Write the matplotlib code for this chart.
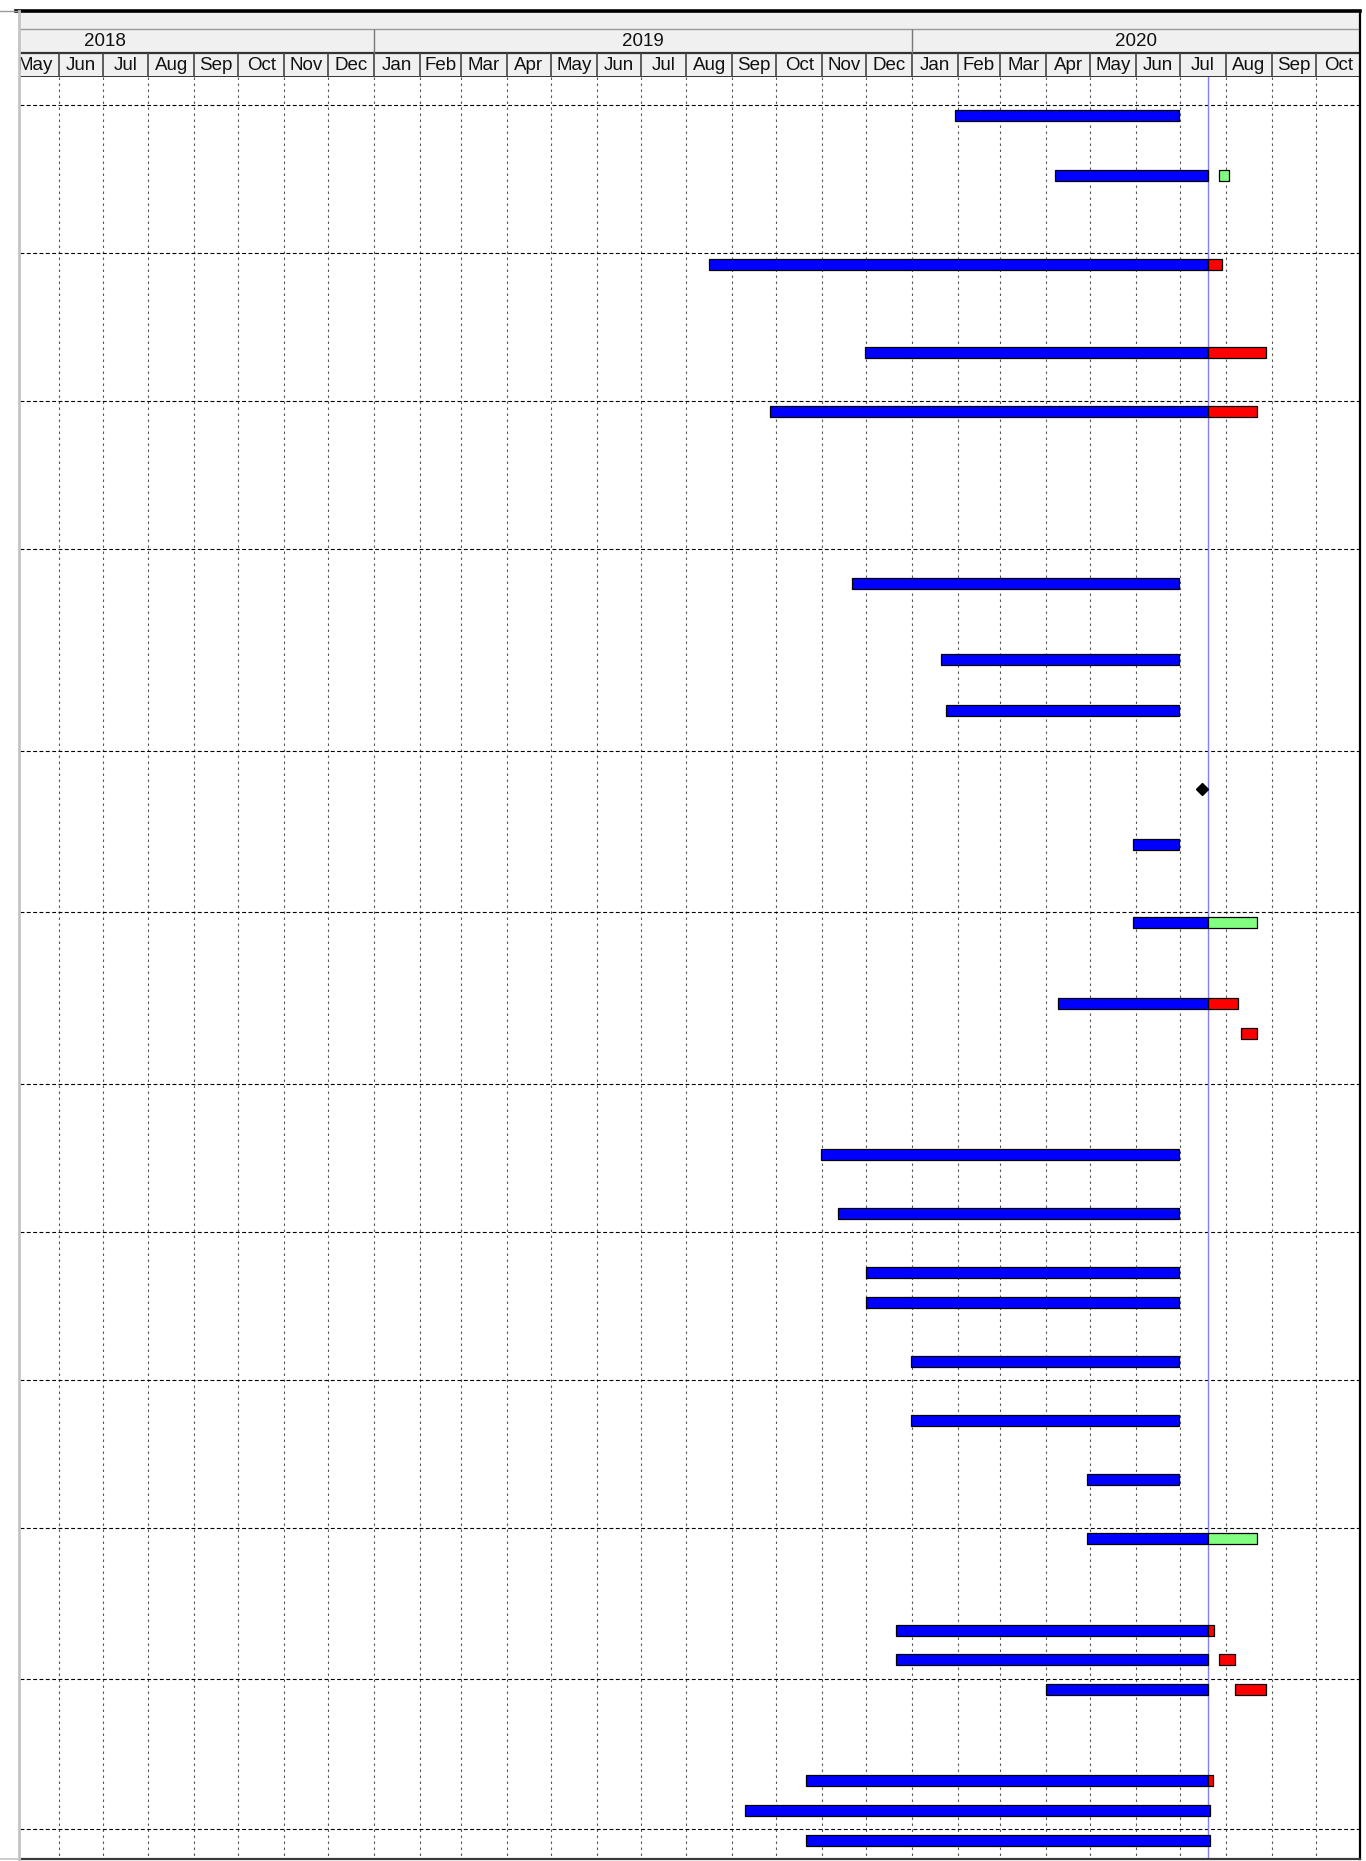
import datetime as dt

import matplotlib
matplotlib.use("Agg")
import matplotlib.pyplot as plt
import matplotlib.dates as mdates
from matplotlib.lines import Line2D
import pandas as pd

W, H = 1366, 1861
plt.rcParams["font.family"] = ["Liberation Sans", "DejaVu Sans"]

# --- data ----------------------------------------------------------------
view_start = "2018-05-06"
view_end = "2020-10-31"
today = "2020-07-20"

# lane centres of the task rows (chart pixels from the top of the picture)
row_y = [116, 175.5, 264.5, 353, 412, 584, 659.7, 710.7, 788.7, 845, 923,
         1004, 1033.3, 1154.5, 1213.8, 1272.8, 1302.5, 1361.3, 1420.8,
         1479.8, 1539, 1630.7, 1659.8, 1689.8, 1780.8, 1810.7, 1840.2]

# dashed group separators
group_lines = [105, 253.3, 401, 549, 750.7, 912.3, 1084, 1232.3, 1380.3,
               1528.3, 1679, 1829.3]

# bar segments: row index, start, end, kind
seg_row = [0,
           1, 1,
           2, 2,
           3, 3,
           4, 4,
           5, 6, 7, 9,
           10, 10,
           11, 11,
           12,
           13, 14, 15, 16, 17, 18, 19,
           20, 20,
           21, 21,
           22, 22,
           23, 23,
           24, 24,
           25, 26]
seg_start = ["2020-01-30",
             "2020-04-07", "2020-07-27",
             "2019-08-16", "2020-07-20",
             "2019-11-30", "2020-07-20",
             "2019-09-27", "2020-07-20",
             "2019-11-21", "2020-01-21", "2020-01-24", "2020-05-30",
             "2020-05-30", "2020-07-20",
             "2020-04-09", "2020-07-20",
             "2020-08-11",
             "2019-10-31", "2019-11-12", "2019-12-01", "2019-12-01",
             "2019-12-31", "2019-12-31", "2020-04-29",
             "2020-04-29", "2020-07-20",
             "2019-12-21", "2020-07-20",
             "2019-12-21", "2020-07-27",
             "2020-04-01", "2020-08-07",
             "2019-10-21", "2020-07-20",
             "2019-09-10", "2019-10-21"]
seg_end = ["2020-06-30",
           "2020-07-20", "2020-08-03",
           "2020-07-20", "2020-07-29",
           "2020-07-20", "2020-08-28",
           "2020-07-20", "2020-08-22",
           "2020-06-30", "2020-06-30", "2020-06-30", "2020-06-30",
           "2020-07-20", "2020-08-22",
           "2020-07-20", "2020-08-09",
           "2020-08-22",
           "2020-06-30", "2020-06-30", "2020-06-30", "2020-06-30",
           "2020-06-30", "2020-06-30", "2020-06-30",
           "2020-07-20", "2020-08-22",
           "2020-07-20", "2020-07-24",
           "2020-07-20", "2020-08-07",
           "2020-07-20", "2020-08-28",
           "2020-07-20", "2020-07-23",
           "2020-07-21", "2020-07-21"]
seg_kind = ["done",
            "done", "left",
            "done", "late",
            "done", "late",
            "done", "late",
            "done", "done", "done", "done",
            "done", "left",
            "done", "late",
            "late",
            "done", "done", "done", "done", "done", "done", "done",
            "done", "left",
            "done", "late",
            "done", "late",
            "done", "late",
            "done", "late",
            "done", "done"]

milestone_row = [8]
milestone_date = ["2020-07-16"]

kind_colors = {"done": "#0000ff", "late": "#ff0000", "left": "#80ff80"}


def d(s):
    return mdates.date2num(dt.datetime.strptime(s, "%Y-%m-%d"))


def fx(px):
    return px / W


def fy(py):
    return 1 - py / H


x0, x1 = d(view_start), d(view_end)
px_per_day = 1339.9 / (x1 - x0)
left_px = 20.2
right_px = left_px + (x1 - x0) * px_per_day

fig = plt.figure(figsize=(W / 100, H / 100), dpi=100)
fig.patch.set_facecolor("white")

# --- body ----------------------------------------------------------------
top_body, bot_body = 77, 1859
ax = fig.add_axes([fx(left_px), fy(bot_body), fx(right_px - left_px),
                   (bot_body - top_body) / H])
ax.set_xlim(x0, x1)
ax.set_ylim(bot_body, top_body)
ax.axis("off")

months = pd.date_range("2018-05-01", "2020-11-01", freq="MS")
month_nums = [mdates.date2num(m.to_pydatetime()) for m in months]

ax.vlines(month_nums, top_body, bot_body, colors="#555555",
          linestyles=(0, (2.2, 3.2)), linewidth=0.8, zorder=1)
ax.hlines(group_lines, x0, x1, colors="black",
          linestyles=(0, (3.5, 2.2)), linewidth=0.8, zorder=1)
ax.axvline(d(today), color="#8080ff", linewidth=1.0, zorder=2)

for r, s, e, k in zip(seg_row, seg_start, seg_end, seg_kind):
    ax.barh(row_y[r], d(e) - d(s), left=d(s), height=11,
            color=kind_colors[k], edgecolor="black", linewidth=0.9, zorder=3)

for r, m in zip(milestone_row, milestone_date):
    ax.plot(d(m), row_y[r], marker="D", markersize=6.5, color="black",
            zorder=4)

# --- header --------------------------------------------------------------
top_head = 11
hax = fig.add_axes([fx(left_px), fy(top_body), fx(right_px - left_px),
                    (top_body - top_head) / H])
hax.set_xlim(x0, x1)
hax.set_ylim(top_body, top_head)
hax.axis("off")
hax.axhspan(top_head, top_body, color="#f0f0f0", zorder=0)
hax.axhline(29, color="#9a9a9a", linewidth=1.0)
hax.axhline(53, color="#333333", linewidth=1.6)
hax.axhline(top_body - 0.5, color="#333333", linewidth=1.4)

for i in range(len(months) - 1):
    a, b = month_nums[i], month_nums[i + 1]
    if i > 0:
        hax.vlines(a, 53, top_body, colors="#444444", linewidth=1.2)
    hax.text((a + b) / 2, 65.5, months[i].strftime("%b"), ha="center",
             va="center", fontsize=13.5, color="#111111", clip_on=True)

years = [2018, 2019, 2020]
for y in years:
    a = d(f"{y}-01-01")
    b = min(d(f"{y + 1}-01-01"), x1)
    if a > x0:
        hax.vlines(a, 29, 53, colors="#777777", linewidth=1.0)
    hax.text((a + b) / 2, 41.5, str(y), ha="center", va="center",
             fontsize=13.5, color="#111111", clip_on=True)

# --- frame ---------------------------------------------------------------
frame = [
    ([16, right_px], [top_head, top_head], "black", 2.6),
    ([right_px, right_px], [top_head, bot_body], "black", 1.6),
    ([left_px, right_px], [bot_body, bot_body], "#3a3a3a", 1.6),
    ([18.5, 18.5], [top_head, H], "#c4c4c4", 2.0),
    ([0, 17.5], [top_head, top_head], "#9a9a9a", 1.0),
    ([0, left_px], [bot_body, bot_body], "#c4c4c4", 1.2),
]
for xs, ys, c, lw in frame:
    fig.add_artist(Line2D([fx(v) for v in xs], [fy(v) for v in ys],
                          color=c, linewidth=lw, transform=fig.transFigure))

fig.savefig("out.png", dpi=100, facecolor="white")
